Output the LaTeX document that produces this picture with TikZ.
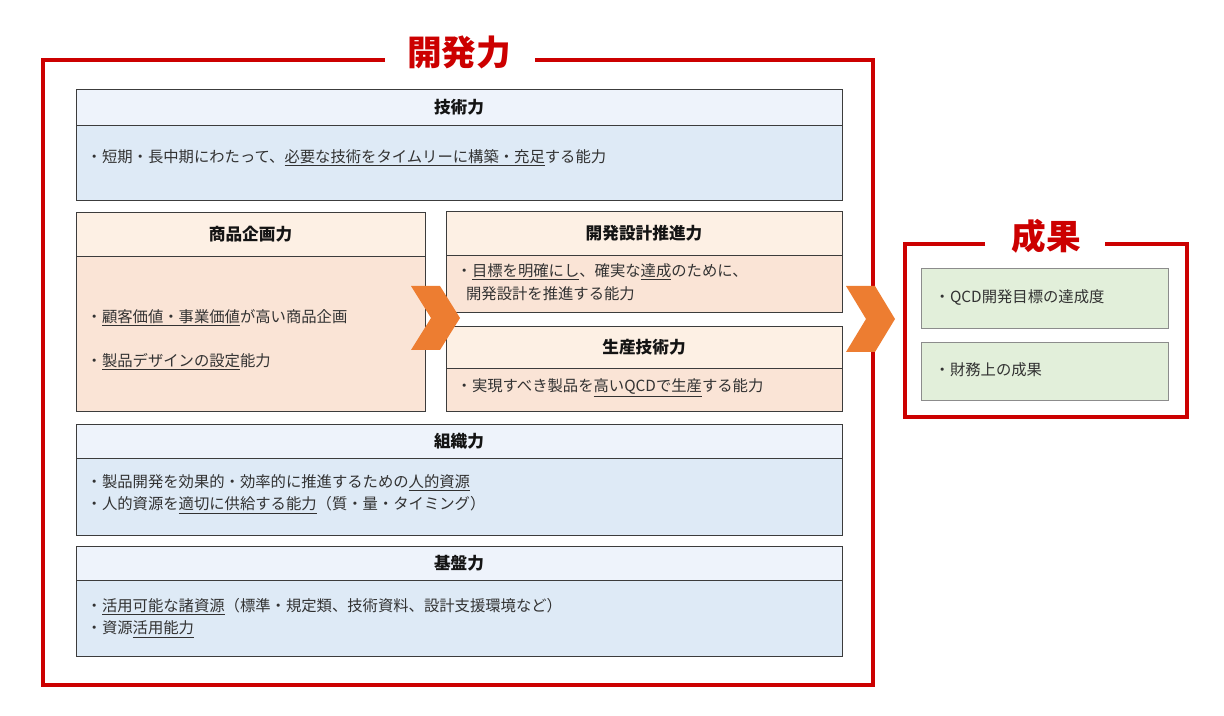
\documentclass[tikz,border=0pt]{standalone}
\usepackage{fontspec}
\setmainfont{Noto Sans CJK JP}
\begin{document}
\begin{tikzpicture}[x=0.75pt,y=-0.75pt,
  red/.style={draw={rgb,255:red,204;green,0;blue,0},line width=2.4pt},
  bx/.style={draw={rgb,255:red,60;green,60;blue,60},line width=0.5pt},
  tt/.style={font=\fontsize{12.5}{14}\selectfont\bfseries,text={rgb,255:red,20;green,20;blue,20}},
  tx/.style={font=\fontsize{11.5}{17}\selectfont,anchor=west,align=left,text={rgb,255:red,50;green,50;blue,50}},
  chev/.style={fill={rgb,255:red,237;green,125;blue,49},draw=none},
  ttl/.style={font=\fontsize{26}{28}\selectfont\bfseries,text={rgb,255:red,204;green,0;blue,0}}]
\definecolor{hb}{RGB}{238,243,251}
\definecolor{bb}{RGB}{222,234,246}
\definecolor{ho}{RGB}{253,240,228}
\definecolor{bo}{RGB}{250,228,214}
\definecolor{gb}{RGB}{226,239,218}
\useasboundingbox (0,0) rectangle (1224,716);
% big frame
\draw[red] (385,60) -- (43,60) -- (43,685) -- (873,685) -- (873,60) -- (535,60);
\node[ttl] (t1) at (459,52) {開発力};
% helper macro-free boxes
\def\bluebox#1#2#3#4#5#6{%
  \fill[hb] (#1,#2) rectangle (#3,#5); \fill[bb] (#1,#5) rectangle (#3,#4);
  \draw[bx] (#1,#2) rectangle (#3,#4); \draw[bx] (#1,#5) -- (#3,#5);
  \node[tt] at ({(#1+#3)/2},{(#2+#5)/2}) {#6};}
\def\orbox#1#2#3#4#5#6{%
  \fill[ho] (#1,#2) rectangle (#3,#5); \fill[bo] (#1,#5) rectangle (#3,#4);
  \draw[bx] (#1,#2) rectangle (#3,#4); \draw[bx] (#1,#5) -- (#3,#5);
  \node[tt] at ({(#1+#3)/2},{(#2+#5)/2}) {#6};}
\bluebox{76}{89}{842}{200}{125}{技術力}
\node[tx] (a1) at (82,158) {・短期・長中期にわたって、\underline{必要な技術をタイムリーに構築・充足}する能力};
\orbox{76}{212}{425}{411}{256}{商品企画力}
\node[tx] (b1) at (82,318) {・\underline{顧客価値・事業価値}が高い商品企画};
\node[tx] (b2) at (82,362) {・\underline{製品デザインの設定}能力};
\orbox{446}{211}{842}{312}{255}{開発設計推進力}
\node[tx] (c1) at (452,282) {・\underline{目標を明確にし}、確実な\underline{達成}のために、\\\ \ \,開発設計を推進する能力};
\orbox{446}{326}{842}{411}{368}{生産技術力}
\node[tx] (d1) at (452,388) {・実現すべき製品を\underline{高いQCDで生産}する能力};
\bluebox{76}{424}{842}{535}{458}{組織力}
\node[tx] (e1) at (82,494) {・製品開発を効果的・効率的に推進するための\underline{人的資源}\\・人的資源を\underline{適切に供給する能力}（質・量・タイミング）};
\bluebox{76}{546}{842}{656}{580}{基盤力}
\node[tx] (f1) at (82,618) {・\underline{活用可能な諸資源}（標準・規定類、技術資料、設計支援環境など）\\・資源\underline{活用能力}};
% chevrons
\fill[chev] (411,286) -- (440,286) -- (460,318) -- (440,350) -- (411,350) -- (431,318) -- cycle;
\fill[chev] (846,286) -- (875,286) -- (895,319) -- (875,352) -- (846,352) -- (866,319) -- cycle;
% result frame
\draw[red] (985,244) -- (905,244) -- (905,417) -- (1187,417) -- (1187,244) -- (1105,244);
\node[ttl] (t2) at (1046,236) {成果};
\draw[fill=gb,draw={rgb,255:red,140;green,140;blue,140}] (921,268) rectangle (1168,328);
\node[tx] (g1) at (930,297) {・QCD開発目標の達成度};
\draw[fill=gb,draw={rgb,255:red,140;green,140;blue,140}] (921,342) rectangle (1168,400);
\node[tx] (g2) at (930,370) {・財務上の成果};
\end{tikzpicture}
\end{document}
